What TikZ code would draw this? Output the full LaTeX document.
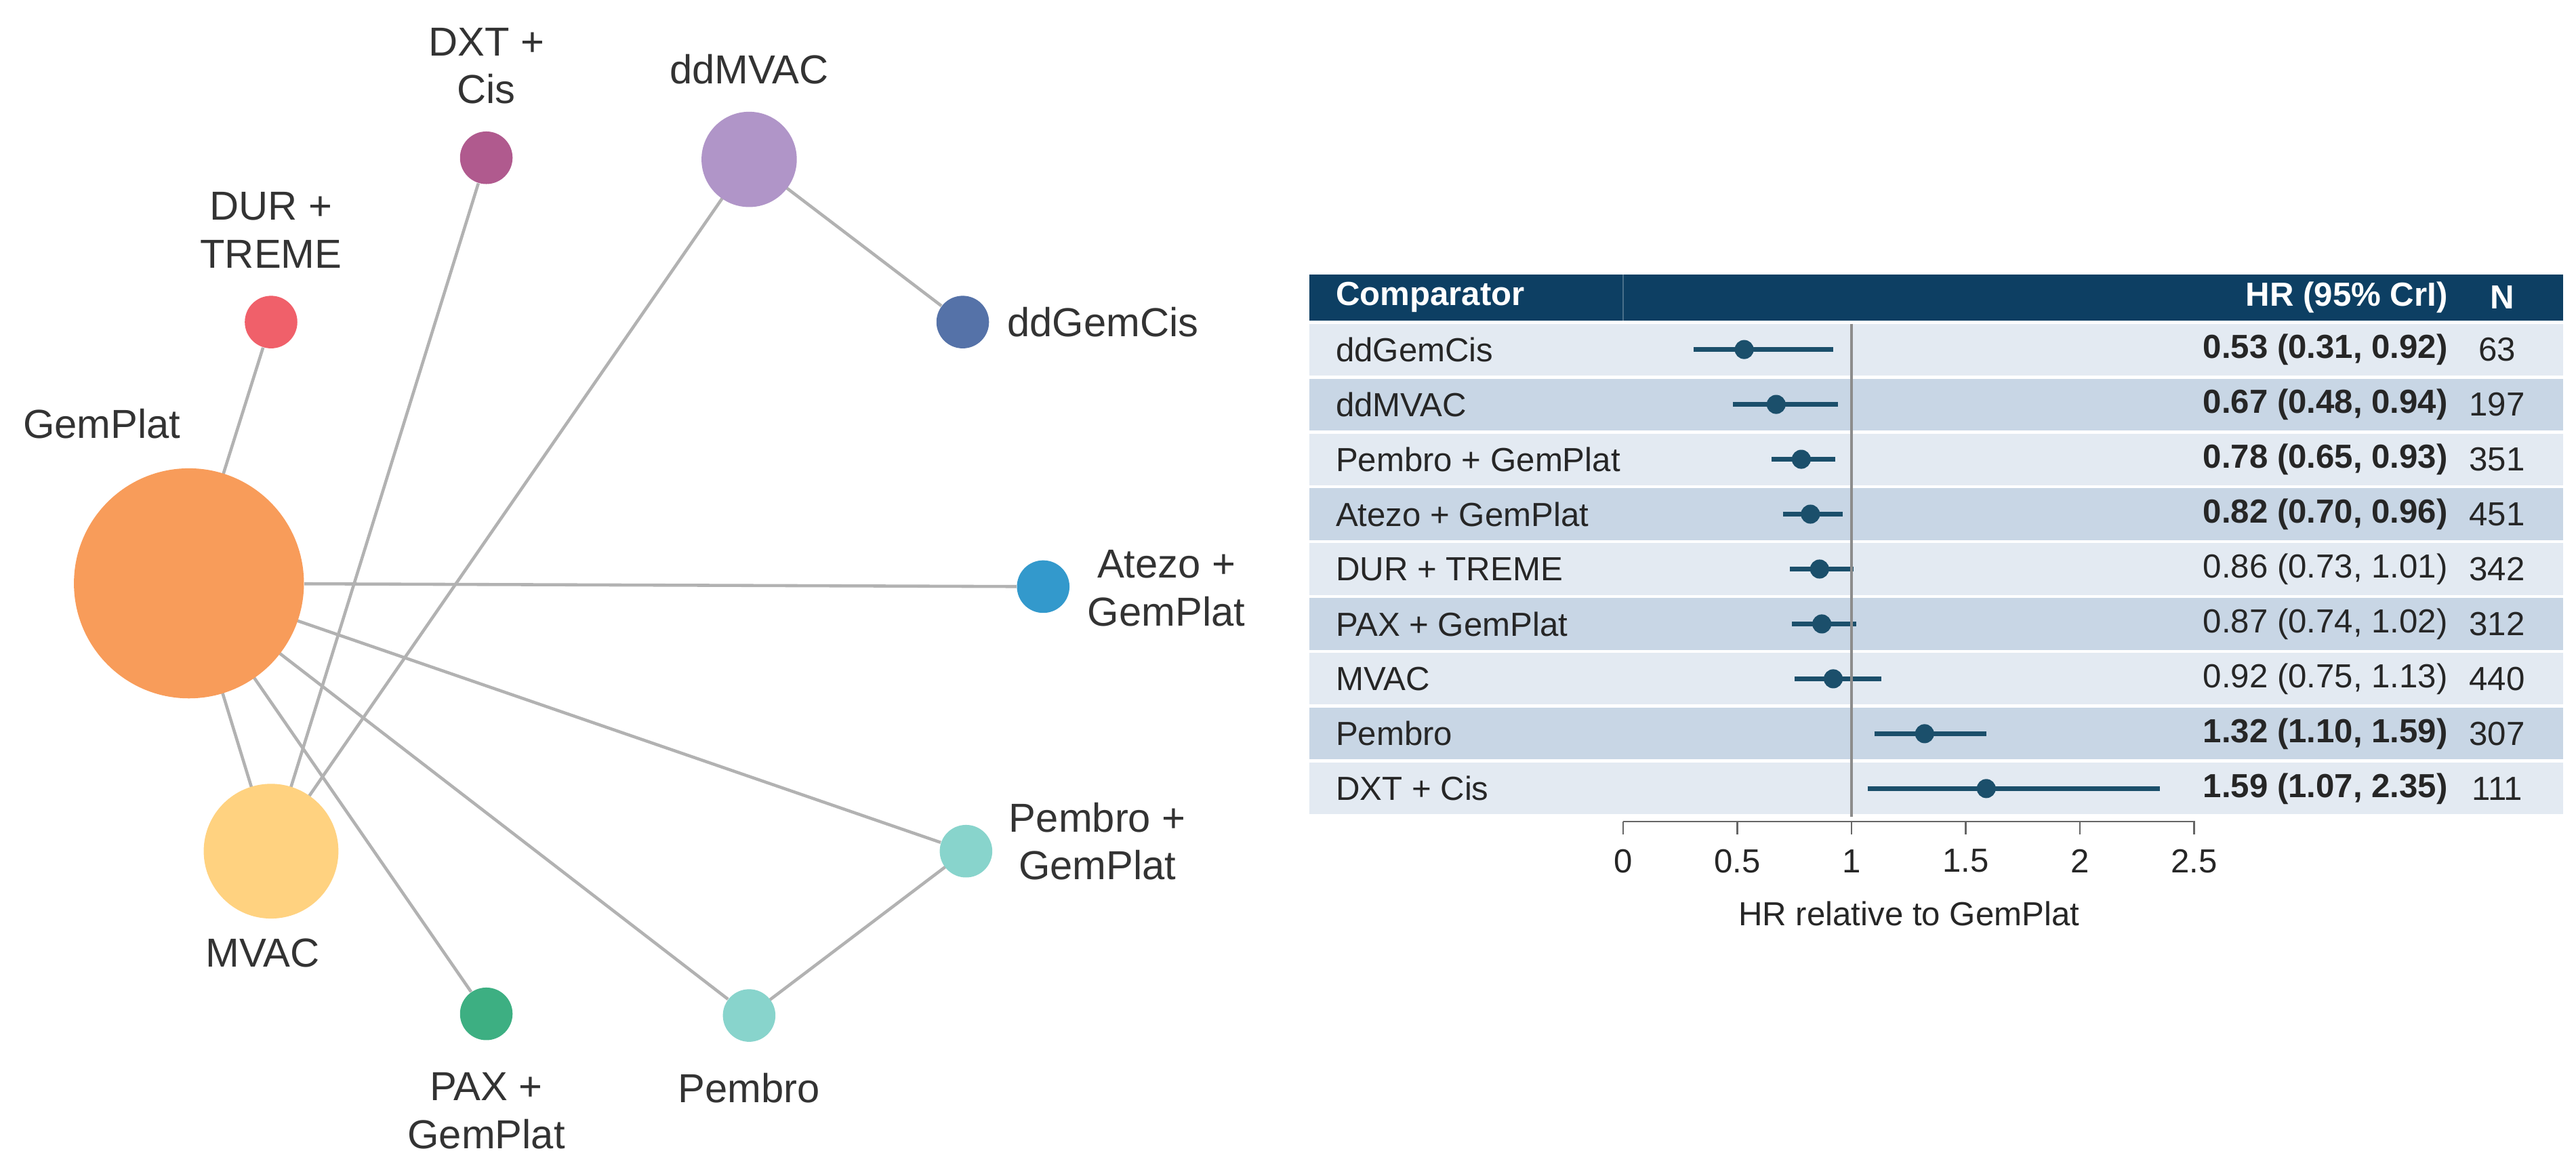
\documentclass[tikz,border=0pt]{standalone}
\usepackage{fontspec}
\setmainfont{Liberation Sans}
\newcommand\Rr[1]{#1*0.02424cm}
\begin{document}
\begin{tikzpicture}[x=0.02424cm,y=-0.02424cm,
  nd/.style={circle,inner sep=0pt,draw=none},
  lbl/.style={font=\fontsize{17}{20}\selectfont,align=center,text=black!80},
  ed/.style={draw=black!30,line width=1.3pt},
  tt/.style={font=\fontsize{14}{16}\selectfont,text=black!85},
  ci/.style={draw=cib,line width=2pt},
  dot/.style={circle,fill=cib,inner sep=0pt,minimum size=8pt}]
\definecolor{cib}{HTML}{1B4F6B}
\definecolor{hdr}{HTML}{0D3F63}
\definecolor{rl}{HTML}{E3EAF2}
\definecolor{rd}{HTML}{C8D6E5}
\definecolor{cgp}{RGB}{248,156,90}
\definecolor{cmv}{RGB}{255,210,128}
\definecolor{cdu}{RGB}{240,96,106}
\definecolor{cdx}{RGB}{176,90,142}
\definecolor{cdm}{RGB}{176,149,200}
\definecolor{cdg}{RGB}{85,114,168}
\definecolor{cat}{RGB}{51,153,204}
\definecolor{cpg}{RGB}{136,212,204}
\definecolor{cpx}{RGB}{61,175,130}
\useasboundingbox (0,0) rectangle (1568,713);
% network edges first via coordinates-as-nodes
\node[nd,minimum size=\Rr{140}] (gp) at (115,355) {};
\node[nd,minimum size=\Rr{82}] (mv) at (165,518) {};
\node[nd,minimum size=\Rr{32}] (du) at (165,196) {};
\node[nd,minimum size=\Rr{32}] (dx) at (296,96) {};
\node[nd,minimum size=\Rr{58}] (dm) at (456,97) {};
\node[nd,minimum size=\Rr{32}] (dg) at (586,196) {};
\node[nd,minimum size=\Rr{32}] (at) at (635,357) {};
\node[nd,minimum size=\Rr{32}] (pg) at (588,518) {};
\node[nd,minimum size=\Rr{32}] (pe) at (456,618) {};
\node[nd,minimum size=\Rr{32}] (px) at (296,617) {};
\path[ed] (gp.center) -- (du);
\path[ed] (gp) -- (at);
\path[ed] (gp.center) -- (pg);
\path[ed] (gp.center) -- (pe);
\path[ed] (gp.center) -- (px);
\path[ed] (gp.center) -- (mv.center);
\path[ed] (mv.center) -- (dx);
\path[ed] (mv.center) -- (dm.center);
\path[ed] (dm.center) -- (dg);
\path[ed] (pe.center) -- (pg.center);
\fill[cgp] (gp.center) circle (\Rr{70});
\fill[cmv] (mv.center) circle (\Rr{41});
\fill[cdm] (dm.center) circle (\Rr{29});
\foreach \n/\c in {du/cdu,dx/cdx,dg/cdg,at/cat,pg/cpg,pe/cpg,px/cpx}{
  \fill[\c] (\n.center) circle (\Rr{16});}
\node[lbl] (lgp) at (62,258) {GemPlat};
\node[lbl] (lmv) at (160,580) {MVAC};
\node[lbl] (ldu) at (165,140) {DUR +\\TREME};
\node[lbl] (ldx) at (296,40) {DXT +\\Cis};
\node[lbl] (ldm) at (456,42) {ddMVAC};
\node[lbl,anchor=west] (ldg) at (608,196) {ddGemCis};
\node[lbl] (lat) at (710,358) {Atezo +\\GemPlat};
\node[lbl] (lpg) at (668,512) {Pembro +\\GemPlat};
\node[lbl] (lpe) at (456,662) {Pembro};
\node[lbl] (lpx) at (296,676) {PAX +\\GemPlat};
% table
\fill[hdr] (797,167) rectangle (1560,195);
\draw[white,opacity=0.25] (988,167) -- (988,195);
\node[font=\bfseries\fontsize{14}{16}\selectfont,text=white,anchor=west] (hc) at (808,181) {Comparator};
\node[font=\bfseries\fontsize{14}{16}\selectfont,text=white,anchor=east] (hh) at (1495,181) {HR (95\% CrI)};
\node[font=\bfseries\fontsize{14}{16}\selectfont,text=white] (hn) at (1523,181) {N};
\def\rh{33.4}
\foreach \i/\name/\hr/\lo/\hi/\txt/\b/\N in {
 0/ddGemCis/0.53/0.31/0.92/{0.53 (0.31, 0.92)}/1/63,
 1/ddMVAC/0.67/0.48/0.94/{0.67 (0.48, 0.94)}/1/197,
 2/Pembro + GemPlat/0.78/0.65/0.93/{0.78 (0.65, 0.93)}/1/351,
 3/Atezo + GemPlat/0.82/0.70/0.96/{0.82 (0.70, 0.96)}/1/451,
 4/DUR + TREME/0.86/0.73/1.01/{0.86 (0.73, 1.01)}/0/342,
 5/PAX + GemPlat/0.87/0.74/1.02/{0.87 (0.74, 1.02)}/0/312,
 6/MVAC/0.92/0.75/1.13/{0.92 (0.75, 1.13)}/0/440,
 7/Pembro/1.32/1.10/1.59/{1.32 (1.10, 1.59)}/1/307,
 8/DXT + Cis/1.59/1.07/2.35/{1.59 (1.07, 2.35)}/1/111}{
  \pgfmathsetmacro\ya{197+\i*\rh}
  \pgfmathsetmacro\yb{\ya+\rh-2}
  \pgfmathsetmacro\ym{\ya+\rh/2-1}
  \pgfmathtruncatemacro\odd{mod(\i,2)}
  \ifnum\odd=0 \fill[rl] (797,\ya) rectangle (1560,\yb); \else \fill[rd] (797,\ya) rectangle (1560,\yb); \fi
  \node[tt,anchor=west] at (808,\ym) {\name};
  \ifnum\b=1 \node[tt,anchor=east,font=\bfseries\fontsize{14}{16}\selectfont] at (1495,\ym) {\txt};
  \else \node[tt,anchor=east] at (1495,\ym) {\txt}; \fi
  \node[tt] at (1520,\ym) {\N};
  \draw[ci] (988+139*\lo,\ym) -- (988+139*\hi,\ym);
  \node[dot] at (988+139*\hr,\ym) {};
}
\draw[black!45,line width=1.3pt] (1127,197) -- (1127,497);
\draw[black!60,line width=0.8pt] (988,500) -- (1336,500);
\foreach \t in {0,0.5,1,1.5,2,2.5}{
  \draw[black!60,line width=0.8pt] (988+139*\t,500) -- (988+139*\t,508);
  \node[tt] at (988+139*\t,524) {\t};}
\node[tt] (ax) at (1162,556) {HR relative to GemPlat};
\end{tikzpicture}
\end{document}
